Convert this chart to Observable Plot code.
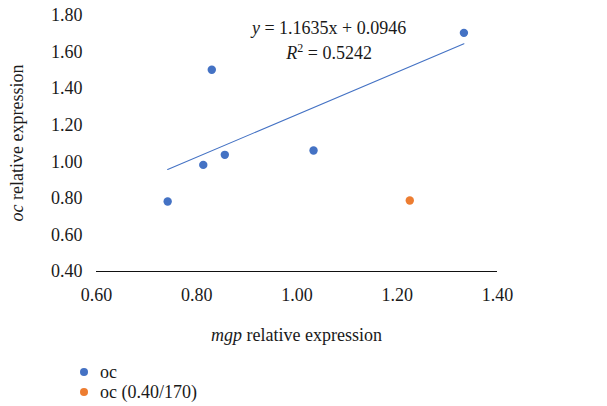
<!DOCTYPE html>
<html>
<head>
<meta charset="utf-8">
<script src="https://cdn.jsdelivr.net/npm/d3@7"></script>
<script src="https://cdn.jsdelivr.net/npm/@observablehq/plot@0.6"></script>
<style>
  html, body { margin: 0; padding: 0; background: #fff; }
  #wrap { position: relative; width: 607px; height: 406px; font-family: "Liberation Serif", "DejaVu Serif", serif; color: #1a1a1a; }
  .leg { position: absolute; left: 80px; font-size: 18px; line-height: 20px; display: flex; align-items: center; }
  .leg .dot { width: 8px; height: 8px; border-radius: 50%; margin-right: 12px; }
</style>
</head>
<body>
<div id="wrap"></div>
<script>
// Data
const ocX = [0.742, 0.813, 0.830, 0.856, 1.033, 1.333];
const ocY = [0.783, 0.983, 1.503, 1.038, 1.062, 1.705];
const outX = [1.225];
const outY = [0.788];
const slope = 1.1635;
const intercept = 0.0946;
const r2 = 0.5242;
const xTicks = [0.60, 0.80, 1.00, 1.20, 1.40];
const yTicks = [0.40, 0.60, 0.80, 1.00, 1.20, 1.40, 1.60, 1.80];
const seriesNames = ["oc", "oc (0.40/170)"];
const seriesColors = ["#4472C4", "#ED7D31"];
const eqAnchor = {x: 1.065, y: 1.70}; // annotation position in data units

const ocData = ocX.map((x, i) => ({x, y: ocY[i]}));
const outData = outX.map((x, i) => ({x, y: outY[i]}));
const xMin = d3.min(ocX), xMax = d3.max(ocX);
const trend = [xMin, xMax].map(x => ({x, y: slope * x + intercept}));

const W = 607, H = 355;
const FS = 18;
const fmt = d3.format(".2f");

const plot = Plot.plot({
  width: W,
  height: H,
  marginLeft: 96,
  marginRight: 110,
  marginTop: 15,
  marginBottom: 84,
  style: {fontFamily: "Liberation Serif, DejaVu Serif, serif", fontSize: FS + "px", color: "#1a1a1a", background: "#fff"},
  x: {domain: [0.6, 1.4]},
  y: {domain: [0.4, 1.8]},
  marks: [
    Plot.axisX({ticks: xTicks, tickFormat: fmt, tickSize: 0, tickPadding: 17, label: null, fontSize: FS}),
    Plot.axisY({ticks: yTicks, tickFormat: fmt, tickSize: 0, tickPadding: 14, label: null, fontSize: FS}),
    Plot.ruleY([0.4], {stroke: "#111", strokeWidth: 1.2}),
    Plot.line(trend, {x: "x", y: "y", stroke: seriesColors[0], strokeWidth: 1.1}),
    Plot.dot(ocData, {x: "x", y: "y", r: 4.2, fill: seriesColors[0], stroke: "none"}),
    Plot.dot(outData, {x: "x", y: "y", r: 4.2, fill: seriesColors[1], stroke: "none"})
  ]
});

const svg = d3.select(plot);
const sx = plot.scale("x"), sy = plot.scale("y");
const x0 = sx.range[0], x1 = sx.range[1];
const yTop = sy.range[1], yBot = sy.range[0];

// Equation annotation
const ex = sx.apply(eqAnchor.x), ey = sy.apply(eqAnchor.y);
const eq1 = svg.append("text").attr("x", ex).attr("y", ey + 1).attr("text-anchor", "middle")
  .attr("font-size", FS).attr("fill", "#1a1a1a");
eq1.append("tspan").attr("font-style", "italic").text("y");
eq1.append("tspan").text(` = ${slope}x + ${intercept}`);
const eq2 = svg.append("text").attr("x", ex).attr("y", ey + 26).attr("text-anchor", "middle")
  .attr("font-size", FS).attr("fill", "#1a1a1a");
eq2.append("tspan").attr("font-style", "italic").text("R");
eq2.append("tspan").attr("font-size", 12).attr("dy", -7).text("2");
eq2.append("tspan").attr("dy", 7).text(` = ${r2}`);

// Axis titles
const xl = svg.append("text").attr("x", (x0 + x1) / 2).attr("y", 341).attr("text-anchor", "middle")
  .attr("font-size", FS).attr("fill", "#1a1a1a");
xl.append("tspan").attr("font-style", "italic").text("mgp");
xl.append("tspan").text(" relative expression");

const yl = svg.append("text").attr("transform", `translate(23,${(yTop + yBot) / 2}) rotate(-90)`)
  .attr("text-anchor", "middle").attr("font-size", FS).attr("fill", "#1a1a1a");
yl.append("tspan").attr("font-style", "italic").text("oc");
yl.append("tspan").text(" relative expression");

const wrap = document.getElementById("wrap");
wrap.appendChild(plot);
plot.style.position = "absolute";
plot.style.left = "0px";
plot.style.top = "0px";

// Legend
seriesNames.forEach((name, i) => {
  const row = document.createElement("div");
  row.className = "leg";
  row.style.top = (362 + i * 20) + "px";
  const dot = document.createElement("span");
  dot.className = "dot";
  dot.style.background = seriesColors[i];
  const lab = document.createElement("span");
  lab.textContent = name;
  row.appendChild(dot);
  row.appendChild(lab);
  wrap.appendChild(row);
});
</script>
</body>
</html>
